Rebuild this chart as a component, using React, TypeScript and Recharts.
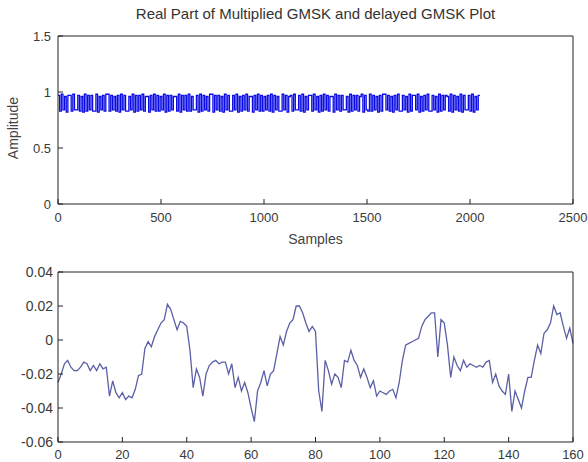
import { LineChart, Line, XAxis, YAxis } from "recharts";

const title = "Real Part of Multiplied GMSK and delayed GMSK Plot";
const xLabelTop = "Samples";
const yLabelTop = "Amplitude";

// top plot: multiplied signal, one value per 8 samples
const bandVals = [
  0.97, 0.83, 0.98, 0.84, 0.96, 0.82, 0.97, 0.97, 0.83, 0.98, 0.84, 0.84, 0.97, 0.83, 0.96, 0.82,
  0.98, 0.83, 0.97, 0.84, 0.97, 0.83, 0.83, 0.98, 0.82, 0.96, 0.84, 0.97, 0.83, 0.98, 0.98, 0.83,
  0.97, 0.84, 0.96, 0.83, 0.97, 0.82, 0.98, 0.84, 0.97, 0.83, 0.83, 0.96, 0.84, 0.98, 0.82, 0.97,
  0.83, 0.97, 0.84, 0.98, 0.83, 0.96, 0.96, 0.82, 0.97, 0.84, 0.98, 0.83, 0.97, 0.83, 0.96, 0.84,
  0.98, 0.82, 0.97, 0.83, 0.97, 0.84, 0.96, 0.96, 0.83, 0.98, 0.82, 0.97, 0.84, 0.97, 0.83, 0.98,
  0.83, 0.96, 0.84, 0.84, 0.97, 0.82, 0.98, 0.83, 0.97, 0.84, 0.96, 0.83, 0.98, 0.98, 0.82, 0.97,
  0.84, 0.97, 0.83, 0.96, 0.82, 0.98, 0.84, 0.97, 0.83, 0.83, 0.97, 0.84, 0.98, 0.82, 0.96, 0.83,
  0.97, 0.84, 0.98, 0.83, 0.96, 0.96, 0.82, 0.97, 0.84, 0.98, 0.83, 0.97, 0.83, 0.96, 0.84, 0.97,
  0.83, 0.98, 0.82, 0.97, 0.84, 0.96, 0.83, 0.83, 0.98, 0.84, 0.97, 0.82, 0.96, 0.97, 0.83, 0.98,
  0.84, 0.84, 0.97, 0.83, 0.98, 0.82, 0.96, 0.84, 0.97, 0.97, 0.83, 0.98, 0.84, 0.96, 0.82, 0.97,
  0.83, 0.98, 0.84, 0.97, 0.83, 0.96, 0.96, 0.82, 0.98, 0.84, 0.97, 0.83, 0.97, 0.84, 0.84, 0.96,
  0.82, 0.98, 0.83, 0.97, 0.84, 0.97, 0.83, 0.96, 0.98, 0.82, 0.97, 0.84, 0.83, 0.98, 0.83, 0.97,
  0.84, 0.96, 0.82, 0.97, 0.83, 0.98, 0.98, 0.84, 0.97, 0.83, 0.96, 0.82, 0.97, 0.84, 0.98, 0.83,
  0.83, 0.97, 0.84, 0.96, 0.82, 0.98, 0.83, 0.97, 0.97, 0.84, 0.98, 0.82, 0.96, 0.83, 0.97, 0.84,
  0.98, 0.83, 0.83, 0.97, 0.84, 0.96, 0.82, 0.98, 0.83, 0.97, 0.84, 0.97, 0.96, 0.83, 0.98, 0.82,
  0.97, 0.84, 0.96, 0.83, 0.98, 0.82, 0.97, 0.84, 0.84, 0.97, 0.83, 0.98, 0.82, 0.96, 0.84, 0.97,
];
const sampleTicks = [0, 500, 1000, 1500, 2000, 2500];
const ampTicks = [0, 0.5, 1, 1.5];

// bottom plot: values at index 0..160
const errVals = [
  -0.025, -0.02, -0.014, -0.012, -0.016, -0.018, -0.018, -0.016, -0.013, -0.014,
  -0.018, -0.015, -0.018, -0.014, -0.017, -0.016, -0.033, -0.024, -0.031, -0.034,
  -0.031, -0.035, -0.033, -0.034, -0.029, -0.021, -0.02, -0.005, -0.001, -0.004,
  0.002, 0.006, 0.01, 0.012, 0.021, 0.018, 0.012, 0.006, 0.011, 0.01,
  0.008, -0.006, -0.028, -0.017, -0.022, -0.033, -0.02, -0.015, -0.013, -0.012,
  -0.014, -0.013, -0.013, -0.02, -0.014, -0.028, -0.022, -0.03, -0.025, -0.031,
  -0.04, -0.048, -0.03, -0.025, -0.018, -0.027, -0.02, -0.018, -0.008, 0.002,
  -0.003, 0.005, 0.01, 0.012, 0.02, 0.02, 0.016, 0.01, 0.005, 0.008,
  0.005, -0.03, -0.042, -0.012, -0.018, -0.026, -0.02, -0.022, -0.028, -0.012,
  -0.013, -0.006, -0.012, -0.015, -0.022, -0.017, -0.022, -0.028, -0.024, -0.033,
  -0.03, -0.031, -0.032, -0.03, -0.029, -0.034, -0.025, -0.012, -0.003, -0.002,
  -0.001, 0.0, 0.001, 0.008, 0.012, 0.014, 0.016, 0.016, -0.01, 0.012,
  0.01, -0.003, -0.022, -0.01, -0.015, -0.018, -0.012, -0.016, -0.014, -0.015,
  -0.016, -0.015, -0.016, -0.013, -0.012, -0.025, -0.02, -0.027, -0.03, -0.032,
  -0.02, -0.042, -0.03, -0.035, -0.04, -0.03, -0.022, -0.022, -0.012, -0.003,
  -0.008, 0.004, 0.006, 0.01, 0.02, 0.015, 0.016, 0.008, 0.001, 0.007,
  -0.002,
];
const idxTicks = [0, 20, 40, 60, 80, 100, 120, 140, 160];
const errTicks = [-0.06, -0.04, -0.02, 0, 0.02, 0.04];

const bandData = bandVals
  .map((v, i) => ({ x: i * 8, y: v }))
  .concat([{ x: bandVals.length * 8, y: bandVals[bandVals.length - 1] }]);
const errData = errVals.map((v, i) => ({ x: i, y: v }));

const font = "'Liberation Sans', Arial, sans-serif";
const axisColor = "#222";
const tickStyle = { fill: "#3a3a3a", fontSize: 13, fontFamily: font };

export default function App() {
  return (
    <div style={{ position: "absolute", left: 0, top: 0, width: 588, height: 462, background: "#fff", fontFamily: font }}>
      <div style={{ position: "absolute", left: 58, width: 515, top: 5, textAlign: "center", fontSize: 15, color: "#333" }}>
        {title}
      </div>
      <div style={{ position: "absolute", left: 58, width: 515, top: 231, textAlign: "center", fontSize: 14, color: "#444" }}>
        {xLabelTop}
      </div>
      <div
        style={{
          position: "absolute", left: 13, top: 128, fontSize: 14, color: "#444", whiteSpace: "nowrap",
          transform: "translate(-50%, -50%) rotate(-90deg)",
        }}
      >
        {yLabelTop}
      </div>

      <div style={{ position: "absolute", left: 0, top: 0 }}>
        <LineChart width={588} height={250} data={bandData} margin={{ top: 35, right: 14, bottom: 0, left: 0 }}>
          <XAxis
            dataKey="x" type="number" domain={[0, 2500]} ticks={sampleTicks} height={46}
            stroke={axisColor} tickSize={-5} tickMargin={14} tick={tickStyle}
          />
          <XAxis
            xAxisId="top" orientation="top" dataKey="x" type="number" domain={[0, 2500]} ticks={sampleTicks}
            height={1} stroke={axisColor} tickSize={-5} tick={false}
          />
          <YAxis
            type="number" domain={[0, 1.5]} ticks={ampTicks} width={58}
            stroke={axisColor} tickSize={-5} tickMargin={12} tick={tickStyle}
          />
          <YAxis
            yAxisId="right" orientation="right" type="number" domain={[0, 1.5]} ticks={ampTicks}
            width={1} stroke={axisColor} tickSize={-5} tick={false}
          />
          <Line xAxisId="top" yAxisId="right" dataKey="y" stroke="none" dot={false} isAnimationActive={false} />
          <Line dataKey="y" type="stepAfter" stroke="#0a0ae6" strokeWidth={1.3} dot={false} isAnimationActive={false} />
        </LineChart>
      </div>

      <div style={{ position: "absolute", left: 0, top: 250 }}>
        <LineChart width={588} height={212} data={errData} margin={{ top: 21, right: 14, bottom: 0, left: 0 }}>
          <XAxis
            dataKey="x" type="number" domain={[0, 160]} ticks={idxTicks} height={20}
            stroke={axisColor} tickSize={-5} tickMargin={13} tick={tickStyle}
          />
          <XAxis
            xAxisId="top" orientation="top" dataKey="x" type="number" domain={[0, 160]} ticks={idxTicks}
            height={1} stroke={axisColor} tickSize={-5} tick={false}
          />
          <YAxis
            type="number" domain={[-0.06, 0.04]} ticks={errTicks} width={58}
            stroke={axisColor} tickSize={-5} tickMargin={10}
            tick={{ ...tickStyle, fontSize: 14 }}
            tickFormatter={(v: number) => (v === 0 ? "0" : v.toFixed(2))}
          />
          <YAxis
            yAxisId="right" orientation="right" type="number" domain={[-0.06, 0.04]} ticks={errTicks}
            width={1} stroke={axisColor} tickSize={-5} tick={false}
          />
          <Line xAxisId="top" yAxisId="right" dataKey="y" stroke="none" dot={false} isAnimationActive={false} />
          <Line dataKey="y" type="linear" stroke="#5a5fa6" strokeWidth={1.3} dot={false} isAnimationActive={false} />
        </LineChart>
      </div>
    </div>
  );
}
